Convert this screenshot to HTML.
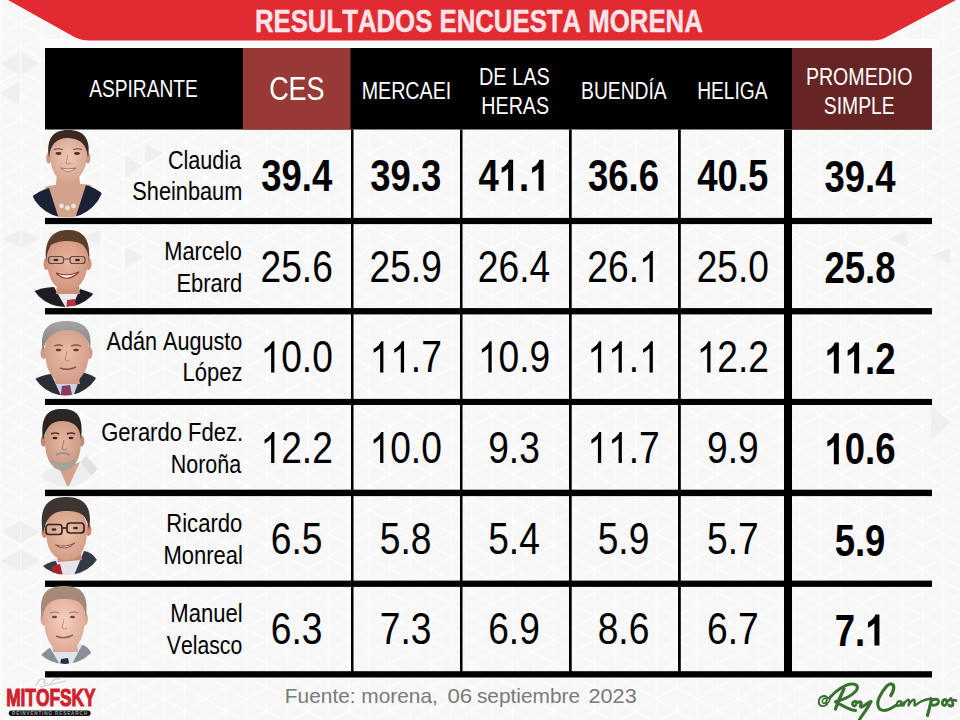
<!DOCTYPE html>
<html><head><meta charset="utf-8"><title>Resultados Encuesta Morena</title>
<style>html,body{margin:0;padding:0;width:960px;height:720px;overflow:hidden;background:#f7f7f7}svg{display:block}text{font-kerning:none}</style>
</head><body>
<svg width="960" height="720" viewBox="0 0 960 720" font-family='"Liberation Sans", sans-serif'><defs>
<pattern id="tri" x="0.3" y="0" width="41" height="47.4" patternUnits="userSpaceOnUse">
<rect width="41" height="47.4" fill="#f7f7f7"/>
<g stroke="#fefefe" stroke-width="1.1" fill="none">
<path d="M0 0V47.4M20.5 0V47.4M41 0V47.4"/>
<path d="M0 -11.85L41 11.85M0 11.85L41 35.55M0 35.55L41 59.25"/>
<path d="M0 11.85L41 -11.85M0 35.55L41 11.85M0 59.25L41 35.55"/>
</g>
</pattern>
</defs>
<rect width="960" height="720" fill="url(#tri)"/>
<rect x="40" y="39" width="900" height="10" fill="#fcfcfc"/>
<path d="M125.0 155.0V177.5L142.5 166.2Z" fill="#efefef"/>
<path d="M145.0 142.5V163.8L162.5 153.2Z" fill="#efefef"/>
<path d="M20.5 230.0V247.5L1.5 238.8Z" fill="#efefef"/>
<path d="M21.5 230.0V247.5L40.5 238.8Z" fill="#efefef"/>
<path d="M125.0 247.5V267.5L144.0 257.5Z" fill="#efefef"/>
<path d="M100.0 230.0V245.0L81.0 237.5Z" fill="#efefef"/>
<path d="M907.0 230.6V247.3L889.0 238.9Z" fill="#efefef"/>
<path d="M950.0 247.3V264.0L931.5 255.7Z" fill="#efefef"/>
<path d="M19.5 52.0V75.0L0.5 63.5Z" fill="#efefef"/>
<path d="M21.0 52.0V75.0L40.0 63.5Z" fill="#efefef"/>
<path d="M19.5 81.0V105.0L0.5 93.0Z" fill="#efefef"/>
<path d="M20.3 521.0V543.0L1.3 532.0Z" fill="#efefef"/>
<path d="M21.3 521.0V543.0L40.3 532.0Z" fill="#efefef"/>
<path d="M20.3 550.0V572.0L1.3 561.0Z" fill="#efefef"/>
<path d="M21.3 550.0V572.0L40.3 561.0Z" fill="#efefef"/>
<path d="M931.0 405.0V440.0L950.0 422.5Z" fill="#efefef"/>
<path d="M8 0H956L888 36.2Q882 40.4 872 40.4H90Q80 40.4 73 36.2Z" fill="#e12b30"/>
<g stroke="#fbe3e8" stroke-width="0.45">
<text x="254.88" y="32.00" font-size="31.20" font-weight="bold" fill="#fbe3e8" textLength="447.90" lengthAdjust="spacingAndGlyphs">RESULTADOS ENCUESTA MORENA</text>
</g>
<rect x="45" y="48" width="887" height="81.5" fill="#000"/>
<rect x="243" y="48" width="107.5" height="81.5" fill="#973935"/>
<rect x="792" y="48" width="140" height="81.5" fill="#652524"/>
<text x="89.16" y="96.90" font-size="23.30" font-weight="normal" fill="#ffffff" textLength="108.66" lengthAdjust="spacingAndGlyphs">ASPIRANTE</text>
<text x="269.13" y="100.20" font-size="32.50" font-weight="normal" fill="#ffffff" textLength="55.41" lengthAdjust="spacingAndGlyphs">CES</text>
<text x="361.69" y="99.30" font-size="23.30" font-weight="normal" fill="#ffffff" textLength="89.53" lengthAdjust="spacingAndGlyphs">MERCAEI</text>
<text x="478.97" y="85.00" font-size="23.30" font-weight="normal" fill="#ffffff" textLength="70.85" lengthAdjust="spacingAndGlyphs">DE LAS</text>
<text x="481.29" y="113.50" font-size="23.30" font-weight="normal" fill="#ffffff" textLength="67.82" lengthAdjust="spacingAndGlyphs">HERAS</text>
<text x="581.02" y="99.20" font-size="23.30" font-weight="normal" fill="#ffffff" textLength="85.72" lengthAdjust="spacingAndGlyphs">BUENDÍA</text>
<text x="697.23" y="99.10" font-size="23.30" font-weight="normal" fill="#ffffff" textLength="70.31" lengthAdjust="spacingAndGlyphs">HELIGA</text>
<text x="805.89" y="85.00" font-size="23.30" font-weight="normal" fill="#ffffff" textLength="106.64" lengthAdjust="spacingAndGlyphs">PROMEDIO</text>
<text x="823.82" y="113.50" font-size="23.30" font-weight="normal" fill="#ffffff" textLength="70.91" lengthAdjust="spacingAndGlyphs">SIMPLE</text>
<rect x="45" y="217.9" width="887" height="6.2" fill="#000"/>
<rect x="45" y="308.1" width="887" height="6.3" fill="#000"/>
<rect x="45" y="398.9" width="887" height="6.1" fill="#000"/>
<rect x="45" y="489.7" width="887" height="6.4" fill="#000"/>
<rect x="45" y="580.6" width="887" height="6.3" fill="#000"/>
<rect x="45" y="671.2" width="887" height="6.3" fill="#000"/>
<rect x="351.0" y="129.5" width="2.5" height="547.5" fill="#000"/>
<rect x="460.0" y="129.5" width="2.5" height="547.5" fill="#000"/>
<rect x="569.0" y="129.5" width="2.7" height="547.5" fill="#000"/>
<rect x="678.0" y="129.5" width="2.8" height="547.5" fill="#000"/>
<rect x="784" y="129.5" width="8" height="547.5" fill="#000"/>
<text x="167.90" y="168.70" font-size="25.00" font-weight="normal" fill="#000" textLength="73.30" lengthAdjust="spacingAndGlyphs">Claudia</text>
<text x="132.31" y="200.30" font-size="25.00" font-weight="normal" fill="#000" textLength="110.02" lengthAdjust="spacingAndGlyphs">Sheinbaum</text>
<text x="164.21" y="259.50" font-size="25.00" font-weight="normal" fill="#000" textLength="77.61" lengthAdjust="spacingAndGlyphs">Marcelo</text>
<text x="176.40" y="291.60" font-size="25.00" font-weight="normal" fill="#000" textLength="65.92" lengthAdjust="spacingAndGlyphs">Ebrard</text>
<text x="106.56" y="349.70" font-size="25.00" font-weight="normal" fill="#000" textLength="135.75" lengthAdjust="spacingAndGlyphs">Adán Augusto</text>
<text x="182.60" y="381.20" font-size="25.00" font-weight="normal" fill="#000" textLength="59.90" lengthAdjust="spacingAndGlyphs">López</text>
<text x="101.19" y="441.00" font-size="25.00" font-weight="normal" fill="#000" textLength="141.92" lengthAdjust="spacingAndGlyphs">Gerardo Fdez.</text>
<text x="170.74" y="473.00" font-size="25.00" font-weight="normal" fill="#000" textLength="70.36" lengthAdjust="spacingAndGlyphs">Noroña</text>
<text x="166.29" y="531.50" font-size="25.00" font-weight="normal" fill="#000" textLength="76.04" lengthAdjust="spacingAndGlyphs">Ricardo</text>
<text x="163.60" y="563.60" font-size="25.00" font-weight="normal" fill="#000" textLength="79.27" lengthAdjust="spacingAndGlyphs">Monreal</text>
<text x="170.29" y="621.50" font-size="25.00" font-weight="normal" fill="#000" textLength="72.28" lengthAdjust="spacingAndGlyphs">Manuel</text>
<text x="166.81" y="653.60" font-size="25.00" font-weight="normal" fill="#000" textLength="75.48" lengthAdjust="spacingAndGlyphs">Velasco</text>
<text x="261.19" y="190.80" font-size="44.50" font-weight="bold" fill="#000" textLength="71.02" lengthAdjust="spacingAndGlyphs">39.4</text>
<text x="370.19" y="190.80" font-size="44.50" font-weight="bold" fill="#000" textLength="71.02" lengthAdjust="spacingAndGlyphs">39.3</text>
<path transform="translate(498.78 190.80) scale(0.01782 -0.02173)" d="M806 0H525V1029Q371 889 162 822V1070Q272 1105 401 1203Q530 1301 578 1430H806Z" fill="#000"/>
<path transform="translate(529.22 190.80) scale(0.01782 -0.02173)" d="M806 0H525V1029Q371 889 162 822V1070Q272 1105 401 1203Q530 1301 578 1430H806Z" fill="#000"/>
<text x="478.49" y="190.80" font-size="44.50" font-weight="bold" fill="#000" textLength="71.02" lengthAdjust="spacingAndGlyphs">4 . </text>
<text x="587.99" y="190.80" font-size="44.50" font-weight="bold" fill="#000" textLength="71.02" lengthAdjust="spacingAndGlyphs">36.6</text>
<text x="697.29" y="190.80" font-size="44.50" font-weight="bold" fill="#000" textLength="71.02" lengthAdjust="spacingAndGlyphs">40.5</text>
<text x="824.49" y="192.00" font-size="44.50" font-weight="bold" fill="#000" textLength="71.02" lengthAdjust="spacingAndGlyphs">39.4</text>
<text x="260.54" y="282.00" font-size="44.50" font-weight="normal" fill="#000" textLength="72.32" lengthAdjust="spacingAndGlyphs">25.6</text>
<text x="369.54" y="282.00" font-size="44.50" font-weight="normal" fill="#000" textLength="72.32" lengthAdjust="spacingAndGlyphs">25.9</text>
<text x="477.84" y="282.00" font-size="44.50" font-weight="normal" fill="#000" textLength="72.32" lengthAdjust="spacingAndGlyphs">26.4</text>
<path transform="translate(638.99 282.00) scale(0.01814 -0.02173)" d="M763 0H583V1115Q518 1055 412 995Q307 935 223 905V1075Q374 1144 487 1242Q600 1340 647 1430H763Z" fill="#000"/>
<text x="587.34" y="282.00" font-size="44.50" font-weight="normal" fill="#000" textLength="72.32" lengthAdjust="spacingAndGlyphs">26. </text>
<text x="696.64" y="282.00" font-size="44.50" font-weight="normal" fill="#000" textLength="72.32" lengthAdjust="spacingAndGlyphs">25.0</text>
<text x="824.49" y="283.20" font-size="44.50" font-weight="bold" fill="#000" textLength="71.02" lengthAdjust="spacingAndGlyphs">25.8</text>
<path transform="translate(260.54 372.40) scale(0.01814 -0.02173)" d="M763 0H583V1115Q518 1055 412 995Q307 935 223 905V1075Q374 1144 487 1242Q600 1340 647 1430H763Z" fill="#000"/>
<text x="260.54" y="372.40" font-size="44.50" font-weight="normal" fill="#000" textLength="72.32" lengthAdjust="spacingAndGlyphs"> 0.0</text>
<path transform="translate(369.54 372.40) scale(0.01814 -0.02173)" d="M763 0H583V1115Q518 1055 412 995Q307 935 223 905V1075Q374 1144 487 1242Q600 1340 647 1430H763Z" fill="#000"/>
<path transform="translate(390.21 372.40) scale(0.01814 -0.02173)" d="M763 0H583V1115Q518 1055 412 995Q307 935 223 905V1075Q374 1144 487 1242Q600 1340 647 1430H763Z" fill="#000"/>
<text x="369.54" y="372.40" font-size="44.50" font-weight="normal" fill="#000" textLength="72.32" lengthAdjust="spacingAndGlyphs">  .7</text>
<path transform="translate(477.84 372.40) scale(0.01814 -0.02173)" d="M763 0H583V1115Q518 1055 412 995Q307 935 223 905V1075Q374 1144 487 1242Q600 1340 647 1430H763Z" fill="#000"/>
<text x="477.84" y="372.40" font-size="44.50" font-weight="normal" fill="#000" textLength="72.32" lengthAdjust="spacingAndGlyphs"> 0.9</text>
<path transform="translate(587.34 372.40) scale(0.01814 -0.02173)" d="M763 0H583V1115Q518 1055 412 995Q307 935 223 905V1075Q374 1144 487 1242Q600 1340 647 1430H763Z" fill="#000"/>
<path transform="translate(608.01 372.40) scale(0.01814 -0.02173)" d="M763 0H583V1115Q518 1055 412 995Q307 935 223 905V1075Q374 1144 487 1242Q600 1340 647 1430H763Z" fill="#000"/>
<path transform="translate(638.99 372.40) scale(0.01814 -0.02173)" d="M763 0H583V1115Q518 1055 412 995Q307 935 223 905V1075Q374 1144 487 1242Q600 1340 647 1430H763Z" fill="#000"/>
<text x="587.34" y="372.40" font-size="44.50" font-weight="normal" fill="#000" textLength="72.32" lengthAdjust="spacingAndGlyphs">  . </text>
<path transform="translate(696.64 372.40) scale(0.01814 -0.02173)" d="M763 0H583V1115Q518 1055 412 995Q307 935 223 905V1075Q374 1144 487 1242Q600 1340 647 1430H763Z" fill="#000"/>
<text x="696.64" y="372.40" font-size="44.50" font-weight="normal" fill="#000" textLength="72.32" lengthAdjust="spacingAndGlyphs"> 2.2</text>
<path transform="translate(824.49 373.60) scale(0.01782 -0.02173)" d="M806 0H525V1029Q371 889 162 822V1070Q272 1105 401 1203Q530 1301 578 1430H806Z" fill="#000"/>
<path transform="translate(844.78 373.60) scale(0.01782 -0.02173)" d="M806 0H525V1029Q371 889 162 822V1070Q272 1105 401 1203Q530 1301 578 1430H806Z" fill="#000"/>
<text x="824.49" y="373.60" font-size="44.50" font-weight="bold" fill="#000" textLength="71.02" lengthAdjust="spacingAndGlyphs">  .2</text>
<path transform="translate(260.54 463.10) scale(0.01814 -0.02173)" d="M763 0H583V1115Q518 1055 412 995Q307 935 223 905V1075Q374 1144 487 1242Q600 1340 647 1430H763Z" fill="#000"/>
<text x="260.54" y="463.10" font-size="44.50" font-weight="normal" fill="#000" textLength="72.32" lengthAdjust="spacingAndGlyphs"> 2.2</text>
<path transform="translate(369.54 463.10) scale(0.01814 -0.02173)" d="M763 0H583V1115Q518 1055 412 995Q307 935 223 905V1075Q374 1144 487 1242Q600 1340 647 1430H763Z" fill="#000"/>
<text x="369.54" y="463.10" font-size="44.50" font-weight="normal" fill="#000" textLength="72.32" lengthAdjust="spacingAndGlyphs"> 0.0</text>
<text x="488.17" y="463.10" font-size="44.50" font-weight="normal" fill="#000" textLength="51.65" lengthAdjust="spacingAndGlyphs">9.3</text>
<path transform="translate(587.34 463.10) scale(0.01814 -0.02173)" d="M763 0H583V1115Q518 1055 412 995Q307 935 223 905V1075Q374 1144 487 1242Q600 1340 647 1430H763Z" fill="#000"/>
<path transform="translate(608.01 463.10) scale(0.01814 -0.02173)" d="M763 0H583V1115Q518 1055 412 995Q307 935 223 905V1075Q374 1144 487 1242Q600 1340 647 1430H763Z" fill="#000"/>
<text x="587.34" y="463.10" font-size="44.50" font-weight="normal" fill="#000" textLength="72.32" lengthAdjust="spacingAndGlyphs">  .7</text>
<text x="706.97" y="463.10" font-size="44.50" font-weight="normal" fill="#000" textLength="51.65" lengthAdjust="spacingAndGlyphs">9.9</text>
<path transform="translate(824.49 464.30) scale(0.01782 -0.02173)" d="M806 0H525V1029Q371 889 162 822V1070Q272 1105 401 1203Q530 1301 578 1430H806Z" fill="#000"/>
<text x="824.49" y="464.30" font-size="44.50" font-weight="bold" fill="#000" textLength="71.02" lengthAdjust="spacingAndGlyphs"> 0.6</text>
<text x="270.87" y="554.30" font-size="44.50" font-weight="normal" fill="#000" textLength="51.65" lengthAdjust="spacingAndGlyphs">6.5</text>
<text x="379.87" y="554.30" font-size="44.50" font-weight="normal" fill="#000" textLength="51.65" lengthAdjust="spacingAndGlyphs">5.8</text>
<text x="488.17" y="554.30" font-size="44.50" font-weight="normal" fill="#000" textLength="51.65" lengthAdjust="spacingAndGlyphs">5.4</text>
<text x="597.67" y="554.30" font-size="44.50" font-weight="normal" fill="#000" textLength="51.65" lengthAdjust="spacingAndGlyphs">5.9</text>
<text x="706.97" y="554.30" font-size="44.50" font-weight="normal" fill="#000" textLength="51.65" lengthAdjust="spacingAndGlyphs">5.7</text>
<text x="834.64" y="555.50" font-size="44.50" font-weight="bold" fill="#000" textLength="50.73" lengthAdjust="spacingAndGlyphs">5.9</text>
<text x="270.87" y="644.30" font-size="44.50" font-weight="normal" fill="#000" textLength="51.65" lengthAdjust="spacingAndGlyphs">6.3</text>
<text x="379.87" y="644.30" font-size="44.50" font-weight="normal" fill="#000" textLength="51.65" lengthAdjust="spacingAndGlyphs">7.3</text>
<text x="488.17" y="644.30" font-size="44.50" font-weight="normal" fill="#000" textLength="51.65" lengthAdjust="spacingAndGlyphs">6.9</text>
<text x="597.67" y="644.30" font-size="44.50" font-weight="normal" fill="#000" textLength="51.65" lengthAdjust="spacingAndGlyphs">8.6</text>
<text x="706.97" y="644.30" font-size="44.50" font-weight="normal" fill="#000" textLength="51.65" lengthAdjust="spacingAndGlyphs">6.7</text>
<path transform="translate(865.07 645.50) scale(0.01782 -0.02173)" d="M806 0H525V1029Q371 889 162 822V1070Q272 1105 401 1203Q530 1301 578 1430H806Z" fill="#000"/>
<text x="834.64" y="645.50" font-size="44.50" font-weight="bold" fill="#000" textLength="50.73" lengthAdjust="spacingAndGlyphs">7. </text>
<text x="284.89" y="703.30" font-size="20.30" font-weight="normal" fill="#7a7a7a" textLength="152.98" lengthAdjust="spacingAndGlyphs">Fuente: morena,</text>
<text x="447.43" y="703.30" font-size="20.30" font-weight="normal" fill="#7a7a7a" textLength="24.75" lengthAdjust="spacingAndGlyphs">06</text>
<text x="476.92" y="703.30" font-size="20.30" font-weight="normal" fill="#7a7a7a" textLength="103.21" lengthAdjust="spacingAndGlyphs">septiembre</text>
<text x="588.51" y="703.30" font-size="20.30" font-weight="normal" fill="#7a7a7a" textLength="48.24" lengthAdjust="spacingAndGlyphs">2023</text>
<path d="M36 686Q40 676 45 680Q42 686 48 683M50 684Q56 676 60 680M40 687L66 681" stroke="#cfcfcf" stroke-width="1.2" fill="none"/>
<g stroke="#d11f2e" stroke-width="1.1" stroke-linejoin="miter">
<text x="6.14" y="705.60" font-size="24.50" font-weight="bold" fill="#d11f2e" textLength="89.44" lengthAdjust="spacingAndGlyphs">MITOFSKY</text>
</g>
<rect x="8.8" y="710.6" width="81.8" height="5.4" rx="2.7" fill="#111"/>
<text x="12" y="715.2" font-size="4.6" font-weight="bold" fill="#9c9c9c" textLength="75" lengthAdjust="spacing">REINVENTING RESEARCH</text>
<defs>
<filter id="soft" x="-10%" y="-10%" width="120%" height="120%"><feGaussianBlur stdDeviation="0.6"/></filter>
<clipPath id="c1"><circle cx="66.5" cy="180" r="37.6"/></clipPath>
<clipPath id="c2"><circle cx="65" cy="270" r="37"/></clipPath>
<clipPath id="c3"><circle cx="65.5" cy="360" r="35.5"/></clipPath>
<clipPath id="c4"><circle cx="66" cy="450" r="36.5"/></clipPath>
<clipPath id="c5"><circle cx="67" cy="538" r="37"/></clipPath>
<clipPath id="c6"><circle cx="65" cy="628" r="36"/></clipPath>
<radialGradient id="sk1" cx="0.5" cy="0.45" r="0.6"><stop offset="0" stop-color="#efc9b6"/><stop offset="1" stop-color="#d4a28c"/></radialGradient>
<radialGradient id="sk2" cx="0.5" cy="0.45" r="0.6"><stop offset="0" stop-color="#ecb69e"/><stop offset="1" stop-color="#cf947c"/></radialGradient>
<radialGradient id="sk3" cx="0.5" cy="0.45" r="0.6"><stop offset="0" stop-color="#ebbca8"/><stop offset="1" stop-color="#cf9b86"/></radialGradient>
<radialGradient id="sk4" cx="0.5" cy="0.45" r="0.6"><stop offset="0" stop-color="#e6b8a2"/><stop offset="1" stop-color="#c8947e"/></radialGradient>
<radialGradient id="sk5" cx="0.5" cy="0.45" r="0.6"><stop offset="0" stop-color="#edc0a8"/><stop offset="1" stop-color="#d09a82"/></radialGradient>
<radialGradient id="sk6" cx="0.5" cy="0.45" r="0.6"><stop offset="0" stop-color="#f6d0bf"/><stop offset="1" stop-color="#dca894"/></radialGradient>
<linearGradient id="hr3" x1="0" y1="0" x2="0" y2="1"><stop offset="0" stop-color="#a8a6a4"/><stop offset="1" stop-color="#7e7c7b"/></linearGradient>
</defs>
<g filter="url(#soft)">
<!-- ===== Claudia ===== -->
<g clip-path="url(#c1)">
<path d="M45 187Q67 181 91 185L80 224L54 224Z" fill="#d3a28d"/>
<path d="M20 240L29 199Q38 191 49 188L60 222Z" fill="#1e2134"/>
<path d="M86 185Q96 188 104 195L112 240L74 222Z" fill="#1e2134"/>
</g>
<path d="M57 174L79 174L81 192L55 192Z" fill="#d3a28d"/>
<ellipse cx="48.8" cy="158" rx="2.6" ry="5.5" fill="#cf9984"/>
<ellipse cx="87.8" cy="158" rx="2.6" ry="5.5" fill="#cf9984"/>
<path d="M50 152C50 138 58 137 68 137C79 137 87 139 87 153C87 171 78 182 68 182C57 182 50 171 50 152Z" fill="url(#sk1)"/>
<path d="M49 158C46 140 52 130 68 130C85 130 91 140 88 158C87 147 83 139 68 138C55 138 50 146 49 158Z" fill="#3a2a23"/>
<path d="M54 149.5Q58 148 63 149.5M73 149.5Q78 148 82 149.5" stroke="#6a4a3c" stroke-width="1.2" fill="none"/>
<ellipse cx="58.5" cy="153.5" rx="3" ry="1.4" fill="#4a3028"/>
<ellipse cx="77" cy="153.5" rx="3" ry="1.4" fill="#4a3028"/>
<path d="M68 155L66 163Q68 165 71 163" stroke="#c08a76" stroke-width="1" fill="none"/>
<path d="M60.5 168Q68 175 76 168Q68 170 60.5 168Z" fill="#f6f1ea" stroke="#a0605a" stroke-width="0.9"/>
<circle cx="61.5" cy="206" r="2.4" fill="#ebe4d8"/><circle cx="67.5" cy="208" r="2.4" fill="#ebe4d8"/><circle cx="73.5" cy="206" r="2.4" fill="#ebe4d8"/>
<!-- ===== Marcelo ===== -->
<g clip-path="url(#c2)">
<path d="M50 288Q67 283 84 289L78 312L58 312Z" fill="#ebe9ea"/>
<path d="M20 320L30 293Q42 287 54 287L67 310Z" fill="#1f1f23"/>
<path d="M80 289Q92 292 104 300L110 320L70 312Z" fill="#1f1f23"/>
<path d="M67 300L75 299L78 312L66 312Z" fill="#b3303f"/>
</g>
<path d="M58 280L78 280L80 294L56 294Z" fill="#cf9079"/>
<ellipse cx="46.5" cy="264" rx="3" ry="6" fill="#cf9079"/>
<ellipse cx="88.5" cy="264" rx="3" ry="6" fill="#cf9079"/>
<path d="M47 258C47 243 55 240 67 240C80 240 88 243 88 258C88 278 80 290 67 290C54 290 47 278 47 258Z" fill="url(#sk2)"/>
<path d="M46 262C44 240 52 230 68 230C84 230 91 240 89 262C88 250 85 244 76 242C66 240 58 241 51 245C48 249 47 255 46 262Z" fill="#5a3c2c"/>
<rect x="48.5" y="256.5" width="15" height="7" rx="2.5" fill="none" stroke="#5a4a48" stroke-width="1.2"/>
<rect x="70" y="256.5" width="15" height="7" rx="2.5" fill="none" stroke="#5a4a48" stroke-width="1.2"/>
<path d="M63.5 259H70" stroke="#5a4a48" stroke-width="1"/>
<ellipse cx="56" cy="260" rx="2.5" ry="1.3" fill="#3a2a28"/>
<ellipse cx="77.5" cy="260" rx="2.5" ry="1.3" fill="#3a2a28"/>
<path d="M56 273Q67 284 79 272Q67 277 56 273Z" fill="#f2ece6" stroke="#8a4038" stroke-width="1.1"/>
<!-- ===== Adan ===== -->
<g clip-path="url(#c3)">
<path d="M48 374Q66 369 86 371L76 400L58 400Z" fill="#c9d2ea"/>
<path d="M20 410L33 380Q42 375 51 374L63 400Z" fill="#2b2d34"/>
<path d="M82 372Q90 374 98 379L110 410L72 400Z" fill="#2b2d34"/>
<path d="M62 386L70 385L73 400L60 400Z" fill="#8a3a5c"/>
</g>
<path d="M56 372L78 372L80 384L55 384Z" fill="#cf9a86"/>
<ellipse cx="43.5" cy="353" rx="3" ry="6" fill="#cf9a86"/>
<ellipse cx="89.5" cy="353" rx="3" ry="6" fill="#cf9a86"/>
<path d="M45 350C45 334 54 330 67 330C80 330 89 334 89 350C89 372 80 383 67 383C54 383 45 372 45 350Z" fill="url(#sk3)"/>
<path d="M43 352C39 330 48 321 66 321C85 321 93 330 90 350C89 340 85 331 67 330C50 331 45 340 43 352Z" fill="url(#hr3)"/>
<path d="M54 346Q59 344 63 346M71 346Q76 344 81 346" stroke="#7a5a4c" stroke-width="1.3" fill="none"/>
<ellipse cx="58.5" cy="350" rx="2.8" ry="1.2" fill="#5a3a30"/>
<ellipse cx="76" cy="350" rx="2.8" ry="1.2" fill="#5a3a30"/>
<path d="M67 351L65 360Q67 362 70 360" stroke="#bf8a76" stroke-width="1" fill="none"/>
<path d="M60 368Q68 371 76 367" stroke="#8a4a44" stroke-width="1.4" fill="none"/>
<!-- ===== Gerardo ===== --><path d="M54 462L74 462L77 480L53 480Z" fill="#cc9a84"/>
<g clip-path="url(#c4)">
<path d="M28 500L42 474Q52 466 62 468L74 466Q86 458 99 470L106 500Z" fill="#eeeeef"/>
<path d="M60 470L68 488L80 462Z" fill="#d4a28c"/>
<path d="M80 462L86 456L99 470L92 476Z" fill="#e2e2e4"/>
</g>

<ellipse cx="43.5" cy="441" rx="2.8" ry="5.5" fill="#c08a74"/>
<ellipse cx="81.5" cy="441" rx="2.8" ry="5.5" fill="#c08a74"/>
<path d="M45 440C45 424 52 420 63 420C74 420 81 424 81 440C81 460 74 470 63 470C52 470 45 460 45 440Z" fill="url(#sk4)"/>
<path d="M48 452Q52 470 63 471Q75 470 78 452Q76 462 63 463Q50 462 48 452Z" fill="#a8a09b"/>
<path d="M56 455Q63 451 70 455" stroke="#9a928c" stroke-width="2.2" fill="none"/>
<path d="M43 440C40 416 48 409 62 409C77 409 84 416 81 440C80 428 76 422 63 421C50 421 46 428 43 440Z" fill="#2a2520"/>
<path d="M51 434Q55 432 59 434M67 434Q71 432 75 434" stroke="#4a3530" stroke-width="1.4" fill="none"/>
<ellipse cx="55" cy="438" rx="2.5" ry="1.2" fill="#3a2520"/>
<ellipse cx="71" cy="438" rx="2.5" ry="1.2" fill="#3a2520"/>
<path d="M64 440L62 449Q64 451 67 449" stroke="#a87460" stroke-width="1" fill="none"/>
<!-- ===== Ricardo ===== -->
<g clip-path="url(#c5)">
<path d="M50 561Q70 551 90 550L76 590L60 590Z" fill="#e7e3ea"/>
<path d="M20 600L40 568Q48 562 56 561L66 590Z" fill="#343a45"/>
<path d="M84 551Q92 552 97 560L112 600L68 590Z" fill="#343a45"/>
<path d="M52 566L60 564L64 580L52 582Z" fill="#b0232f"/>
</g>
<path d="M56 550L80 548L82 560L58 562Z" fill="#c88e74"/>
<ellipse cx="44.5" cy="532" rx="3" ry="6" fill="#c88e74"/>
<ellipse cx="88.5" cy="530" rx="3" ry="6" fill="#c88e74"/>
<path d="M46 530C46 514 54 510 66 510C79 510 87 514 87 530C87 550 79 560 66 560C54 560 46 550 46 530Z" fill="url(#sk5)"/>
<path d="M43 534C38 506 48 497 66 497C84 497 93 506 89 530C87 516 82 511 66 511C52 511 46 518 43 534Z" fill="#3c3431"/>
<rect x="46" y="524.5" width="16" height="10" rx="3" fill="none" stroke="#3a2220" stroke-width="1.7"/>
<rect x="67" y="523" width="17" height="10" rx="3" fill="none" stroke="#3a2220" stroke-width="1.7"/>
<path d="M62 528H67" stroke="#3a2220" stroke-width="1.6"/>
<ellipse cx="54" cy="529.5" rx="2.5" ry="1.3" fill="#3a2520"/>
<ellipse cx="75.5" cy="528" rx="2.5" ry="1.3" fill="#3a2520"/>
<path d="M55.5 545Q65 552 75 543Q65 548 55.5 545Z" fill="#f2ede5" stroke="#8a4a40" stroke-width="1"/>
<!-- ===== Manuel ===== -->
<g clip-path="url(#c6)">
<path d="M46 649Q66 639 86 645L74 672L58 672Z" fill="#dfe4ee"/>
<path d="M20 690L40 656Q46 650 50 648L62 668Z" fill="#8a8e96"/>
<path d="M82 645Q88 646 92 654L110 690L70 668Z" fill="#8a8e96"/>
<path d="M61 659L68 658L71 672L59 672Z" fill="#283246"/>
</g>
<path d="M54 640L76 640L78 652L53 652Z" fill="#dca894"/>
<ellipse cx="43.5" cy="619" rx="3" ry="6.5" fill="#dea894"/>
<ellipse cx="85" cy="619" rx="3" ry="6.5" fill="#dea894"/>
<path d="M44 620C43 601 52 596 64 596C77 596 86 601 85 620C84 640 76 652 64 652C53 652 45 640 44 620Z" fill="url(#sk6)"/>
<path d="M42 620C38 594 46 586 64 586C82 586 89 594 86 618C84 604 80 599 64 599C50 599 45 604 42 620Z" fill="#a68a78"/>
<path d="M50 613Q55 611 59 613M69 613Q74 611 78 613" stroke="#9a7a6a" stroke-width="1.2" fill="none"/>
<ellipse cx="54.5" cy="617" rx="2.6" ry="1.2" fill="#6a4a40"/>
<ellipse cx="72.5" cy="617" rx="2.6" ry="1.2" fill="#6a4a40"/>
<path d="M64 619L62 628Q64 630 67 628" stroke="#c8907c" stroke-width="1" fill="none"/>
<path d="M56 636Q64 640 73 635" stroke="#9a5a50" stroke-width="1.5" fill="none"/>
</g>

<g fill="none" stroke="#3b7033" stroke-linecap="round" stroke-linejoin="round">
<path d="M827.5 698.5C826 694 819 696 818.8 701.5C818.5 706 823 707.5 827 704.5" stroke-width="1.9"/>
<path d="M826.5 698.8C824 697.5 821.5 700 822.5 702.5C823.5 704.5 826.5 702.5 827 699.5L826 703.5C828 703.5 829.5 701 830 699" stroke-width="1.6"/>
<path d="M829.5 698C836 690 846 684 852 684C858 684 859 688 855 692C850 697 842 700 835.5 701.8C842 705 848 709.5 855.5 710.5" stroke-width="3.1"/>
<path d="M844 688.8C841 695 838 702 835.5 709" stroke-width="3.3"/>
<path d="M856 701.5C853 701 851.5 703.5 853 705.5C855 707 857.5 704 856 701.5" stroke-width="2.7"/>
<path d="M857.5 702.5C861 700.5 862 703 860.5 705.5C860 708 863 707 865 705L869.5 702M871 701.5C868 708 863 714 859.5 719.5" stroke-width="3.1"/>
<path d="M892.5 685C890 681 884 688 879.5 697C876 704 878 710.5 884 710.5C889 710.5 893 707 896.5 705" stroke-width="3.1"/>
<path d="M890.8 695.5C893 692 894.5 688 893.3 685" stroke-width="3.3"/>
<path d="M901.5 701.5C898.5 700 896 703 897 705.5C898 707 900.5 705 901.5 702L901 705.5C902 706 903.5 704 904.5 702L903.5 705.5C905 702 907.5 699 909 700C910 701 908.5 704 908.5 705.5C910 702 913 699 914.5 700C915.5 701 914 704 914.5 705.5C916 705.5 918 703 921 701.5C924 700 928 699 931 698.5" stroke-width="2.3"/>
<path d="M931.7 699C930.5 704 929 710 927.5 715.5" stroke-width="3.2"/>
<path d="M931 701C934 698.5 939 698.5 938.5 702C938 705 934 706 931.5 704.5" stroke-width="2.9"/>
<path d="M945.5 699.5C942.5 699.5 941.5 703 943 705C945 706.5 948 703.5 946.5 700.5" stroke-width="2.8"/>
<path d="M947 701.5C949 701 950 699.5 951 698.5C952 701 954 703 952.5 705.5C951.5 706.5 949.5 706 949 705M952 700.5C953.5 700 955 700 956 700.5" stroke-width="2.8"/>
</g>
</svg>
</body></html>
